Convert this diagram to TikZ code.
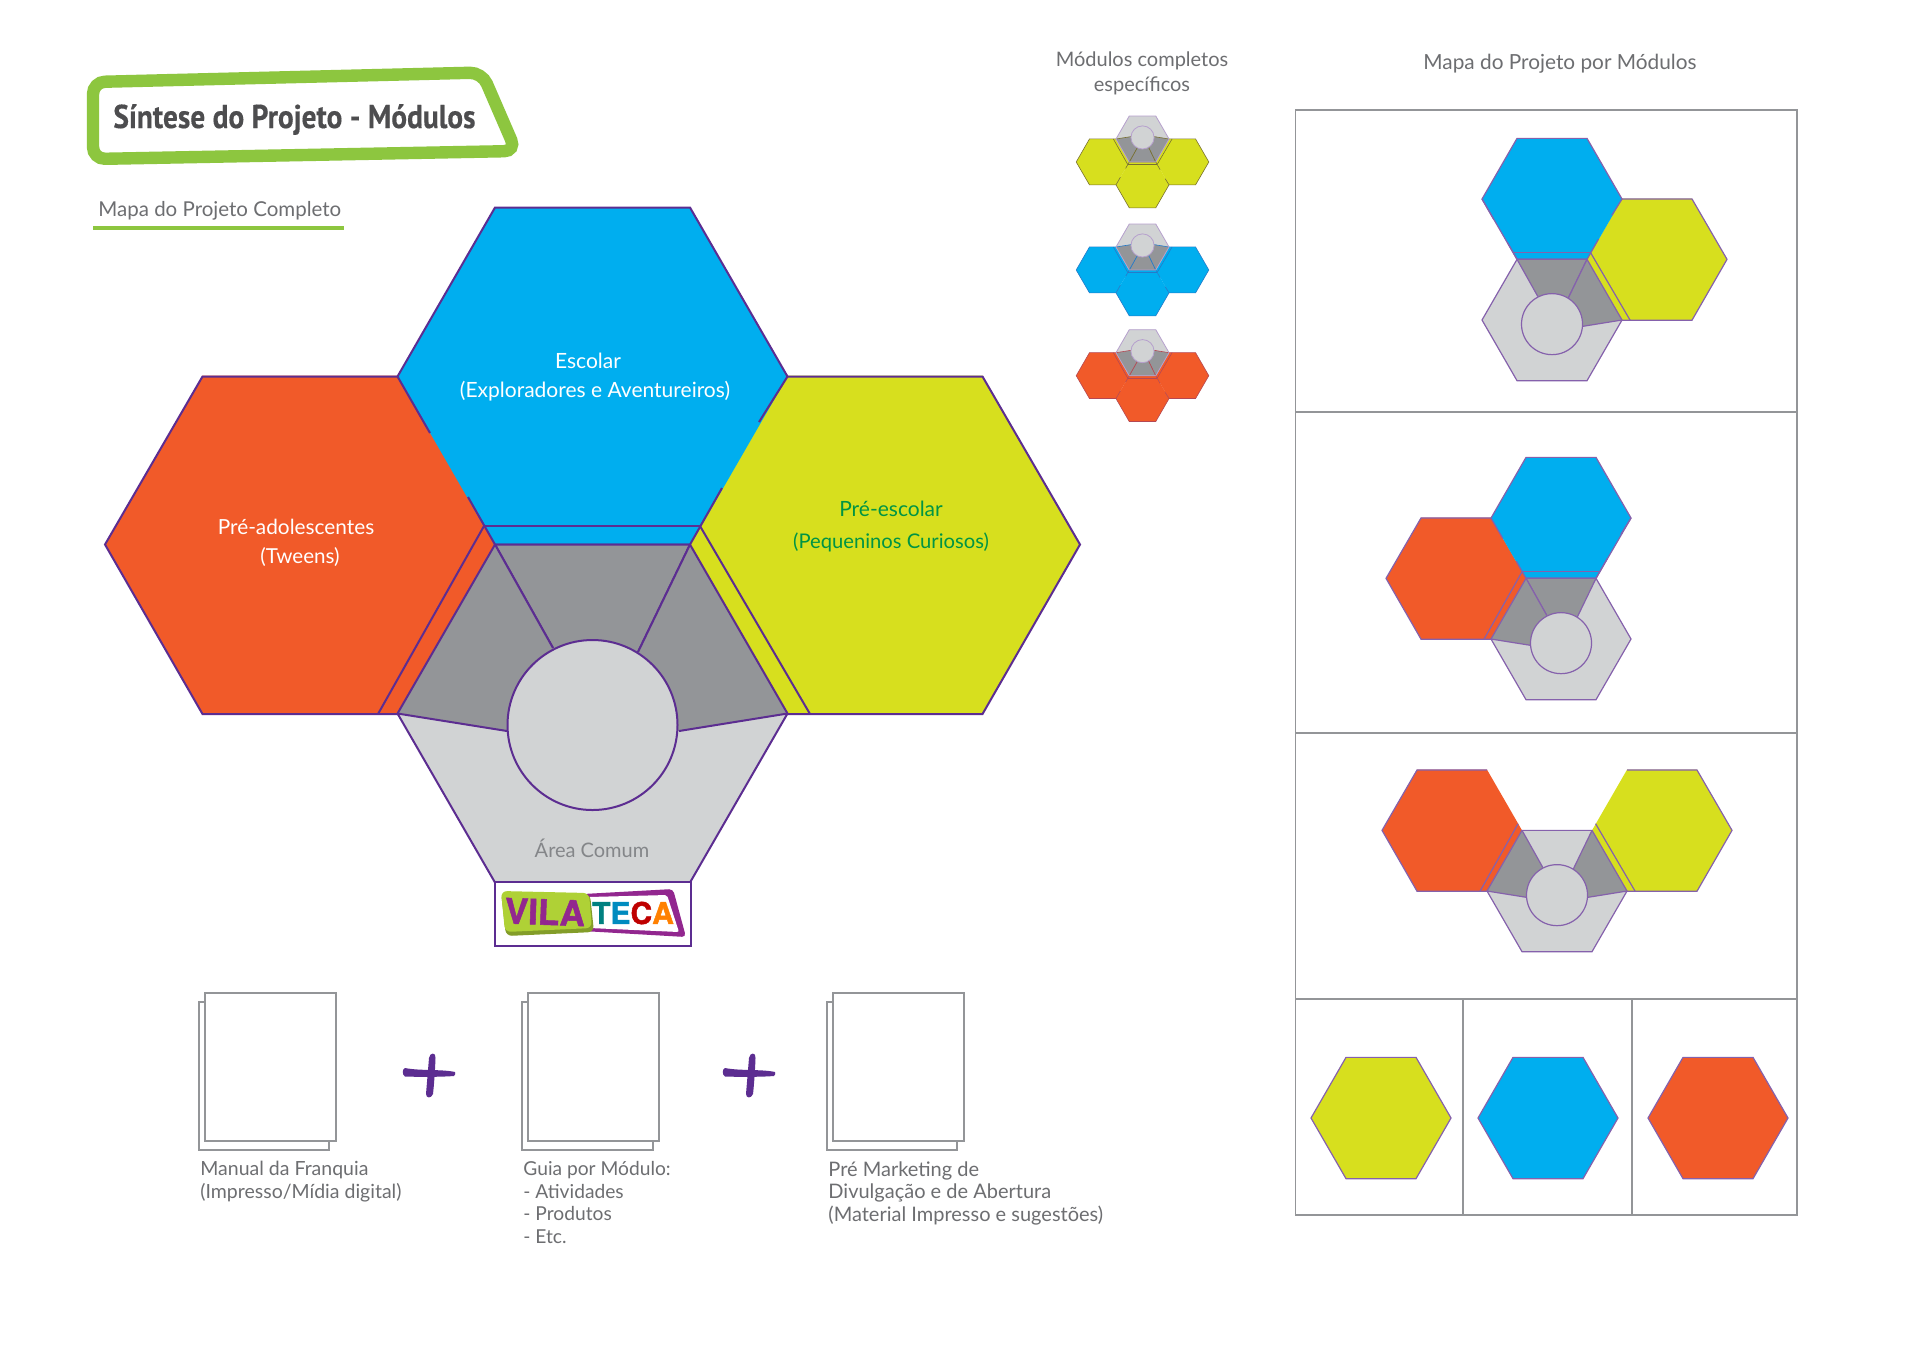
\documentclass[tikz,border=0pt]{standalone}
\usepackage{fontspec}
\setmainfont{Lato}
\newfontfamily\titlefont[FakeStretch=0.89,FakeBold=0.4]{PT Sans Bold}
\newfontfamily\logofont[FakeBold=1.5]{TeX Gyre Heros Bold}
\definecolor{purp}{HTML}{5C2D91}
\definecolor{cblue}{HTML}{00AEEF}
\definecolor{corange}{HTML}{F15A29}
\definecolor{cgreen}{HTML}{D7DF1E}
\definecolor{lgray}{HTML}{D1D3D4}
\definecolor{dgray}{HTML}{939598}
\definecolor{lime}{HTML}{8DC63F}
\definecolor{txtgray}{HTML}{6D6E71}
\definecolor{titlegray}{HTML}{4D4D4F}
\definecolor{linegray}{HTML}{939598}
\definecolor{logolime}{HTML}{AFD136}
\definecolor{logopurp}{HTML}{92278F}
\newcommand\fsz[1]{\fontsize{#1}{11.35}\selectfont}
\tikzset{
  modline/.style={draw=purp,line width=1pt,line join=miter},
  lab/.style={inner sep=0pt,font=\fsz{10},text=txtgray},
  labl/.style={lab,anchor=north west,align=left},
  sheet/.style={draw=linegray,line width=0.75pt,fill=white},
  frameline/.style={draw=linegray,line width=0.75pt},
}
% hexagon of half-width 195 centred on (#1,#2)
\newcommand\HexPath[2]{({#1-195},{#2}) -- ({#1-97.5},{#2-169}) -- ({#1+97.5},{#2-169}) -- ({#1+195},{#2}) -- ({#1+97.5},{#2+169}) -- ({#1-97.5},{#2+169}) -- cycle}
% coloured modules in coordinates relative to the centre of the common hexagon
\newcommand\TopHex[1]{\fill[#1] \HexPath{0}{-337};
  \draw[modline] (-162.5,-280.5) -- (-195,-337) -- (-97.5,-506) -- (97.5,-506) -- (195,-337) -- (166.5,-291.5);
  \draw[modline] (-124.5,-216.5) -- (-97.5,-169) -- (97.5,-169) -- (129.5,-225.5);
  \draw[modline] (-108.5,-187.5) -- (107.5,-187.5);}
\newcommand\TopLeftEdge{\draw[modline] (-195,-337) -- (-97.5,-169);}
\newcommand\TopRightEdge{\draw[modline] (195,-337) -- (97.5,-169);}
\newcommand\LeftHex[1]{\fill[#1] \HexPath{-292.5}{-169};
  \draw[modline] (-195,-337) -- (-390,-337) -- (-487.5,-169) -- (-390,0.5) -- (-195,0.5);
  \draw[modline] (-108.5,-187.5) -- (-214.5,0.5);}
\newcommand\RightHex[1]{\fill[#1] \HexPath{292.5}{-169};
  \draw[modline] (195,-337) -- (390,-337) -- (487.5,-169) -- (390,0.5) -- (195,0.5);
  \draw[modline] (107.5,-187.5) -- (217.5,0.5);}
\newcommand\CoreBase{\fill[lgray] \HexPath{0}{0};}
\newcommand\DarkTop{\fill[dgray] (-97.5,-169) -- (97.5,-169) -- (45.5,-61.5) -- (0,11.5) -- (-39.5,-65.5) -- cycle;
  \draw[modline] (-39.5,-65.5) -- (-97.5,-169); \draw[modline] (45.5,-61.5) -- (97.5,-169);}
\newcommand\DarkLeft{\fill[dgray] (-97.5,-169) -- (-39.5,-65.5) -- (0,11.5) -- (-85.5,17.5) -- (-195,0) -- cycle;
  \draw[modline] (-39.5,-65.5) -- (-97.5,-169); \draw[modline] (-85.5,17.5) -- (-195,0);}
\newcommand\DarkRight{\fill[dgray] (97.5,-169) -- (45.5,-61.5) -- (0,11.5) -- (86.5,17.5) -- (195,0) -- cycle;
  \draw[modline] (45.5,-61.5) -- (97.5,-169); \draw[modline] (86.5,17.5) -- (195,0);}
\newcommand\CoreTop{\draw[modline,fill=none] \HexPath{0}{0};
  \draw[modline,fill=lgray] (0,11.5) circle[radius=85];}
\newcommand\PlusMark{\fill[purp] (405,1068) .. controls (420,1071) and (442,1069) .. (455,1072) .. controls (456,1073) and (455,1075) .. (454,1076) .. controls (440,1077) and (420,1077) .. (405,1076.5) .. controls (402,1075) and (402,1069) .. (405,1068) -- cycle;
 \fill[purp] (429,1058) .. controls (430,1052) and (436,1052) .. (435.5,1058) .. controls (435,1072) and (434,1085) .. (433,1094) .. controls (431,1099) and (426,1098) .. (426,1094) .. controls (427,1082) and (428,1070) .. (429,1058) -- cycle;}
\begin{document}
\begin{tikzpicture}[x=0.5pt,y=-0.5pt]
\useasboundingbox[fill=white] (0,0) rectangle (1920,1357);

% title box
\draw[lime,line width=6.2pt,rounded corners=6pt] (93,82) -- (482,72.5) -- (516,151) -- (93,159) -- cycle;
\node[anchor=base west,inner sep=0pt,text=titlegray,font=\titlefont\fontsize{16.5}{16.5}\selectfont] (title) at (113,128) {Síntese do Projeto - Módulos};

% subtitle
\node[lab,font=\fsz{10.25},anchor=base west] (subtitle) at (98,216) {Mapa do Projeto Completo};
\draw[lime,line width=2.2pt] (93,228) -- (344,228);

% main module
\begin{scope}[shift={(592.5,713.5)}]
  \LeftHex{corange}
  \RightHex{cgreen}
  \TopHex{cblue}
  \CoreBase
  \DarkTop\DarkLeft\DarkRight
  \CoreTop
\end{scope}
\node[lab,font=\fsz{10.5},text=white] (esc1) at (588,361) {Escolar};
\node[lab,font=\fsz{10.5},text=white] (esc2) at (595,391) {(Exploradores e Aventureiros)};
\node[lab,font=\fsz{10.4},text=white] (pre1) at (296,527) {Pré-adolescentes};
\node[lab,font=\fsz{10.3},text=white] (pre2) at (300,557) {(Tweens)};
\node[lab,font=\fsz{10.5},text={rgb,255:red,0;green,148;blue,68}] (esc3) at (891,509) {Pré-escolar};
\node[lab,font=\fsz{10.1},text={rgb,255:red,0;green,148;blue,68}] (esc4) at (891,542) {(Pequeninos Curiosos)};
\node[lab,text=dgray!90!black] (area) at (592,848) {Área Comum};

% logo
\draw[purp,line width=1pt,fill=white] (495,882) rectangle (691,946);
\begin{scope}
  \fill[logopurp,rounded corners=2pt] (583,894) -- (673,889) -- (686,937) -- (583,931) -- cycle;
  \fill[white,rounded corners=1pt] (588,897) -- (667,895) -- (679,932) -- (590,928) -- cycle;
  \fill[logolime!75!black,rounded corners=3pt] (501,892) -- (590,894) -- (594,932) -- (506,936) -- cycle;
  \fill[logolime,rounded corners=3pt] (501,891) -- (589,893) -- (592,928) -- (505,932) -- cycle;
\end{scope}
\node[inner sep=0pt,rotate=-2,font=\logofont\fontsize{17.5}{18}\selectfont,text=logopurp] (vila) at (545,912) {VILA};
\node[inner sep=0pt,font=\logofont\fontsize{15}{15}\selectfont] (teca) at (633,913) {{\color{teal}T}{\color{cblue!80!black}E}{\color{red!75!black}C}{\color{orange}A}};

% documents
\draw[sheet] (199,1002) rectangle (329,1150);
\draw[sheet] (205,993) rectangle (336,1141);
\draw[sheet] (522,1002) rectangle (653,1150);
\draw[sheet] (528,993) rectangle (659,1141);
\draw[sheet] (827,1002) rectangle (957,1150);
\draw[sheet] (833,993) rectangle (964,1141);
\PlusMark
\begin{scope}[shift={(320,0)}]\PlusMark\end{scope}
\node[labl,font=\fsz{9.75}] (doc1) at (200,1161) {Manual da Franquia\\(Impresso/Mídia digital)};
\node[labl,font=\fsz{9.6}] (doc2) at (523,1161) {Guia por Módulo:\\- Atividades\\- Produtos\\- Etc.};
\node[labl] (doc3) at (828,1161) {Pré Marketing de\\Divulgação e de Abertura\\(Material Impresso e sugestões)};

% small complete modules
\node[lab] (mc1) at (1142,61) {Módulos completos};
\node[lab] (mc2) at (1142,86) {específicos};
\tikzset{smallmod/.style={xscale=0.136,yscale=-0.136,modline/.style={draw=purp!45!white,line width=0.3pt}}}
\begin{scope}[shift={(1142.5,139)},smallmod]
  \tikzset{modline/.style={draw=purp!35!cgreen!70!black,line width=0.3pt}}
  \LeftHex{cgreen}\RightHex{cgreen}\TopHex{cgreen}
  \CoreBase\DarkTop\DarkLeft\DarkRight
  \tikzset{modline/.style={draw=purp!45!white,line width=0.4pt}}
  \CoreTop
\end{scope}
\begin{scope}[shift={(1142.5,247)},smallmod]
  \tikzset{modline/.style={draw=purp!40!cblue,line width=0.3pt}}
  \LeftHex{cblue}\RightHex{cblue}\TopHex{cblue}
  \CoreBase\DarkTop\DarkLeft\DarkRight
  \tikzset{modline/.style={draw=purp!45!white,line width=0.4pt}}
  \CoreTop
\end{scope}
\begin{scope}[shift={(1142.5,352.7)},smallmod]
  \tikzset{modline/.style={draw=purp!40!corange,line width=0.3pt}}
  \LeftHex{corange}\RightHex{corange}\TopHex{corange}
  \CoreBase\DarkTop\DarkLeft\DarkRight
  \tikzset{modline/.style={draw=purp!45!white,line width=0.4pt}}
  \CoreTop
\end{scope}

% project map by modules
\node[lab,font=\fsz{10.4}] (mapa) at (1560,64) {Mapa do Projeto por Módulos};
\draw[frameline] (1295.5,110) rectangle (1797,1215);
\draw[frameline] (1295.5,412) -- (1797,412);
\draw[frameline] (1295.5,733) -- (1797,733);
\draw[frameline] (1295.5,999) -- (1797,999);
\draw[frameline] (1463,999) -- (1463,1215);
\draw[frameline] (1632,999) -- (1632,1215);
\tikzset{panelmod/.style={scale=0.359,modline/.style={draw=purp!75!white,line width=0.6pt}}}
\begin{scope}[shift={(1552,320)},panelmod]
  \RightHex{cgreen}\TopHex{cblue}\TopLeftEdge
  \CoreBase\DarkTop\DarkRight\CoreTop
\end{scope}
\begin{scope}[shift={(1561,639)},panelmod]
  \LeftHex{corange}\TopHex{cblue}\TopRightEdge
  \CoreBase\DarkTop\DarkLeft\CoreTop
\end{scope}
\begin{scope}[shift={(1557,891)},panelmod]
  \LeftHex{corange}\RightHex{cgreen}
  \CoreBase\DarkLeft\DarkRight\CoreTop
\end{scope}
\begin{scope}[shift={(1381,1118)},panelmod]
  \draw[modline,fill=cgreen] \HexPath{0}{0};
\end{scope}
\begin{scope}[shift={(1548,1118)},panelmod]
  \draw[modline,fill=cblue] \HexPath{0}{0};
\end{scope}
\begin{scope}[shift={(1718,1118)},panelmod]
  \draw[modline,fill=corange] \HexPath{0}{0};
\end{scope}
\end{tikzpicture}
\end{document}
